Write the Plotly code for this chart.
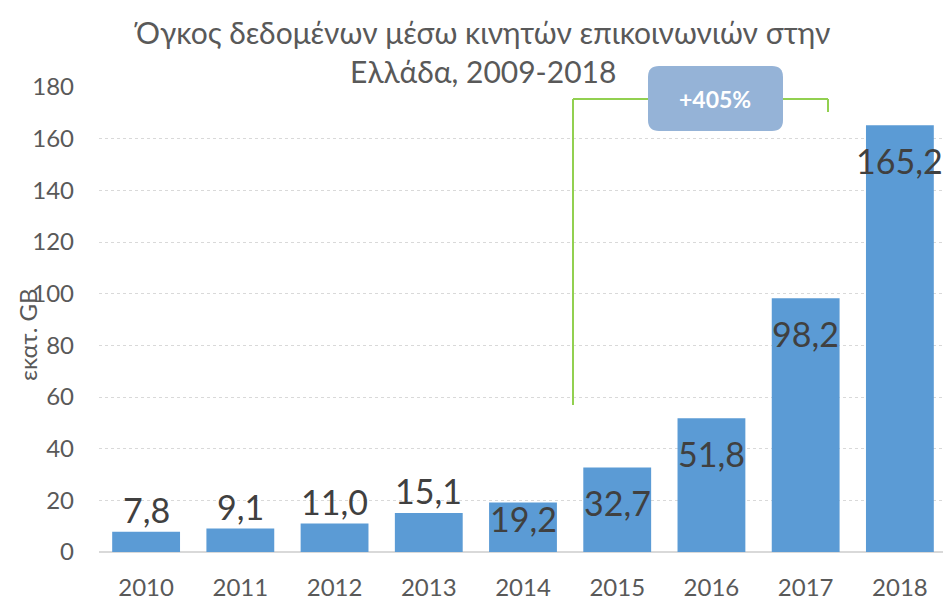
import plotly.graph_objects as go

years = ["2010", "2011", "2012", "2013", "2014", "2015", "2016", "2017", "2018"]
volumes = [7.8, 9.1, 11.0, 15.1, 19.2, 32.7, 51.8, 98.2, 165.2]
value_labels = ["7,8", "9,1", "11,0", "15,1", "19,2", "32,7", "51,8", "98,2", "165,2"]
y_ticks = [0, 20, 40, 60, 80, 100, 120, 140, 160, 180]
growth_label = "+405%"
title_text = "Όγκος δεδομένων μέσω κινητών επικοινωνιών στην<br>Ελλάδα, 2009-2018"
y_title = "εκατ. GB"

# page offset (default body margin of the html page)
OFF = 8
W, H = 951 - OFF, 613 - OFF
# plot area in page pixels
L, R, T, B = 99, 947, 87, 552

def px(x):
    return (x - L) / (R - L)

def py(y):
    return (B - y) / (B - T)

FONT = "Lato"
xpos = list(range(len(years)))

fig = go.Figure()
fig.add_trace(go.Bar(
    x=xpos, y=volumes,
    marker=dict(color="#5B9BD5", line=dict(width=0)),
    width=0.72,
    hoverinfo="skip",
))

# data labels
label_style = ["out", "out", "out", "out", "fit", "in", "in", "in", "in"]
annotations = []
for xi, v, lab, st in zip(xpos, volumes, value_labels, label_style):
    if st == "out":
        shift = 22
    elif st == "fit":
        shift = -16
    else:
        shift = -35
    annotations.append(dict(
        x=xi, y=v, xref="x", yref="y", text=lab, showarrow=False,
        yanchor="middle", yshift=shift,
        font=dict(family=FONT, size=34, color="#404040"),
    ))

# title
annotations.append(dict(
    x=px(482), y=py(12), xref="paper", yref="paper", text=title_text,
    showarrow=False, xanchor="center", yanchor="top",
    font=dict(family=FONT, size=30, color="#595959"),
))

# y-axis title
annotations.append(dict(
    x=px(27), y=py(335), xref="paper", yref="paper", text=y_title,
    textangle=-90, showarrow=False, xanchor="center", yanchor="middle",
    font=dict(family=FONT, size=24, color="#595959"),
))

# growth box text
annotations.append(dict(
    x=px(715), y=py(99), xref="paper", yref="paper", text="<b>" + growth_label + "</b>",
    showarrow=False, xanchor="center", yanchor="middle",
    font=dict(family=FONT, size=23, color="#FFFFFF"),
))

green = "#92D050"
shapes = [
    dict(type="line", xref="paper", yref="paper", x0=px(573), x1=px(573), y0=py(405), y1=py(99),
         line=dict(color=green, width=2)),
    dict(type="line", xref="paper", yref="paper", x0=px(573), x1=px(650), y0=py(99), y1=py(99),
         line=dict(color=green, width=2)),
    dict(type="line", xref="paper", yref="paper", x0=px(781), x1=px(828), y0=py(99), y1=py(99),
         line=dict(color=green, width=2)),
    dict(type="line", xref="paper", yref="paper", x0=px(828), x1=px(828), y0=py(99), y1=py(112),
         line=dict(color=green, width=2)),
]

# rounded box path in paper coords
x0, x1, y0, y1, r = 648, 783, 66, 131, 11
def P(x, y):
    return f"{px(x):.5f},{py(y):.5f}"
path = (
    f"M {P(x0 + r, y0)} L {P(x1 - r, y0)} Q {P(x1, y0)} {P(x1, y0 + r)} "
    f"L {P(x1, y1 - r)} Q {P(x1, y1)} {P(x1 - r, y1)} "
    f"L {P(x0 + r, y1)} Q {P(x0, y1)} {P(x0, y1 - r)} "
    f"L {P(x0, y0 + r)} Q {P(x0, y0)} {P(x0 + r, y0)} Z"
)
shapes.append(dict(type="path", xref="paper", yref="paper", path=path,
                   fillcolor="#95B3D7", line=dict(width=0), layer="above"))

fig.update_layout(
    width=W, height=H,
    margin=dict(l=L - OFF, r=W - (R - OFF), t=T - OFF, b=H - (B - OFF)),
    paper_bgcolor="white", plot_bgcolor="white",
    showlegend=False,
    xaxis=dict(range=[-0.5, len(years) - 0.5], tickvals=xpos, ticktext=years,
               showgrid=False, ticks="", showline=False, zeroline=False,
               ticklabelstandoff=19,
               tickfont=dict(family=FONT, size=24, color="#595959")),
    yaxis=dict(range=[0, 180], tickvals=y_ticks, showgrid=True,
               gridcolor="#D9D9D9", griddash="dot", gridwidth=1,
               zeroline=True, zerolinecolor="#D9D9D9", zerolinewidth=2,
               ticks="", ticklabelstandoff=24,
               tickfont=dict(family=FONT, size=24, color="#595959")),
    annotations=annotations,
    shapes=shapes,
)

fig.write_html("out.html")
